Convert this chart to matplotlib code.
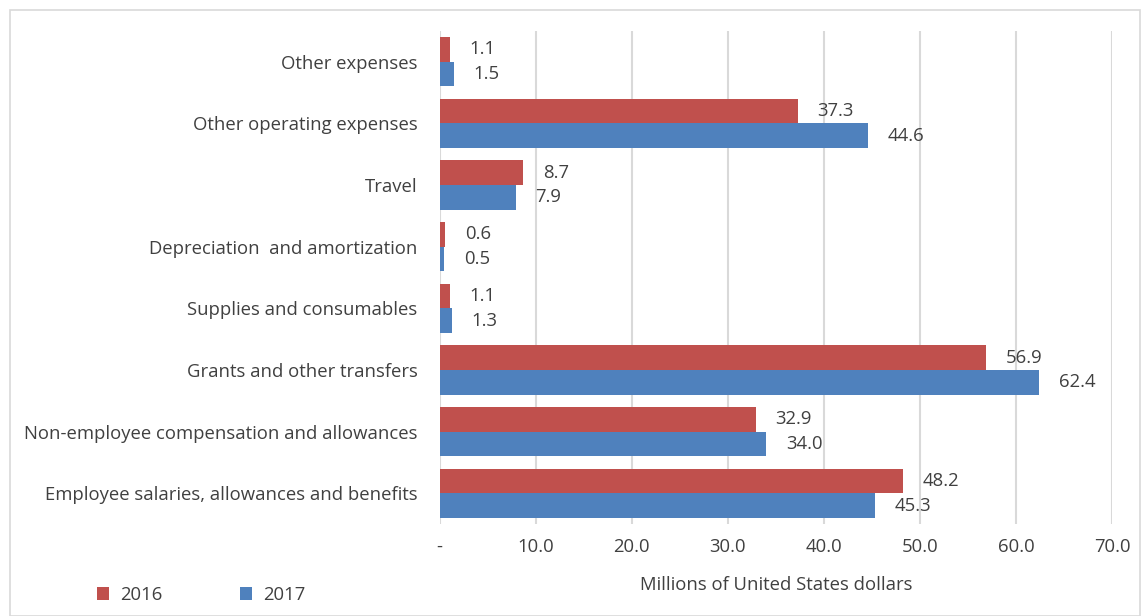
import numpy as np
import matplotlib.pyplot as plt
from matplotlib.patches import Rectangle

categories = ["Employee salaries, allowances and benefits",
              "Non-employee compensation and allowances",
              "Grants and other transfers",
              "Supplies and consumables",
              "Depreciation  and amortization",
              "Travel",
              "Other operating expenses",
              "Other expenses"]
vals_2016 = [48.2, 32.9, 56.9, 1.1, 0.6, 8.7, 37.3, 1.1]
vals_2017 = [45.3, 34.0, 62.4, 1.3, 0.5, 7.9, 44.6, 1.5]
xticks = [0, 10, 20, 30, 40, 50, 60, 70]
xtick_labels = ["-", "10.0", "20.0", "30.0", "40.0", "50.0", "60.0", "70.0"]

red = '#C0504D'
blue = '#4F81BD'
txt = '#404040'
fs = 13.3
plt.rcParams['font.family'] = ['Open Sans', 'DejaVu Sans']

fig = plt.figure(figsize=(11.42, 6.16), dpi=100)
ax = fig.add_axes([0.385, 0.149, 0.589, 0.801])

y = np.arange(len(categories))
h = 0.4
b16 = ax.barh(y + h / 2, vals_2016, h, color=red, label='2016')
b17 = ax.barh(y - h / 2, vals_2017, h, color=blue, label='2017')

for bars, vals in ((b16, vals_2016), (b17, vals_2017)):
    for bar, v in zip(bars, vals):
        ax.annotate(f"{v:.1f}", (v, bar.get_y() + bar.get_height() / 2),
                    xytext=(14, 0), textcoords='offset points',
                    va='center', ha='left', fontsize=fs, color=txt)

ax.set_xlim(0, 70)
ax.set_ylim(-0.5, 7.5)
ax.set_xticks(xticks)
ax.set_xticklabels(xtick_labels, fontsize=fs, color=txt)
ax.set_yticks(y)
ax.set_yticklabels(categories, fontsize=fs, color=txt)
ax.tick_params(length=0)
ax.tick_params(axis='y', pad=16)
ax.tick_params(axis='x', pad=10)
ax.xaxis.grid(True, color='#D9D9D9', linewidth=1.5)
ax.set_axisbelow(True)
for s in ax.spines.values():
    s.set_visible(False)
ax.set_xlabel("Millions of United States dollars", fontsize=fs, color=txt, labelpad=14)

fig.legend(handles=[b16, b17], loc='center left', bbox_to_anchor=(0.07, 0.034),
           ncol=2, frameon=False, fontsize=fs, handlelength=0.65, handleheight=0.65,
           columnspacing=4.2, handletextpad=0.6, labelcolor=txt)

fig.patches.append(Rectangle((10 / 1142, 0), 1 - 12 / 1142, 1 - 10 / 616,
                             transform=fig.transFigure, fill=False,
                             edgecolor='#D9D9D9', linewidth=1.2))

fig.savefig('out.png', dpi=100)
